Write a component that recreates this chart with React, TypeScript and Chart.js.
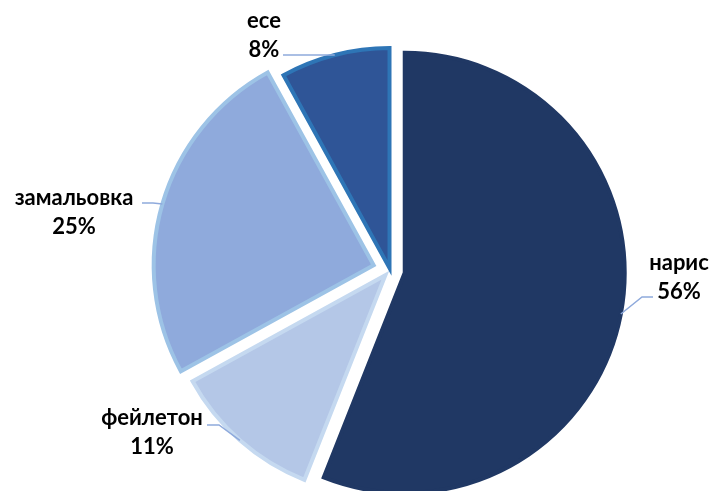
import React, { useEffect, useRef } from 'react';
import { Chart, registerables } from 'chart.js';

Chart.register(...registerables);

// ---- data ----
const categories: string[] = ['нарис', 'фейлетон', 'замальовка', 'есе'];
const values: number[] = [56, 11, 25, 8];
const percentLabels: string[] = ['56%', '11%', '25%', '8%'];

// ---- styles ----
const fillColors = ['#203864', '#B4C7E7', '#8FAADC', '#2F5597'];
const borderColors = ['#203864', '#C5D9F0', '#9DC3E6', '#2E75B6'];
const explode = [15, 7, 17, 2];
const labelAnchors = [
  { x: 679, y: 270 },
  { x: 152, y: 425 },
  { x: 74, y: 205 },
  { x: 264, y: 28 },
];
const leaderAttach = [
  { x: 653, y: 297, ex: 642 },
  { x: 207, y: 425, ex: 219 },
  { x: 142, y: 203, ex: 153 },
  { x: 283, y: 55, ex: 298 },
];
const LINE_GAP = 29;
const FONT = 'bold 22px Lato, "Noto Sans", sans-serif';

const explodePlugin = {
  id: 'explodeSlices',
  beforeDatasetsDraw(chart: any) {
    const meta = chart.getDatasetMeta(0);
    const ca = chart.chartArea;
    const cx = (ca.left + ca.right) / 2;
    const cy = (ca.top + ca.bottom) / 2;
    meta.data.forEach((arc: any, i: number) => {
      const mid = (arc.startAngle + arc.endAngle) / 2;
      arc.x = cx + Math.cos(mid) * explode[i];
      arc.y = cy + Math.sin(mid) * explode[i];
    });
  },
};

const labelPlugin = {
  id: 'outsideLabels',
  afterDatasetsDraw(chart: any) {
    const ctx: CanvasRenderingContext2D = chart.ctx;
    const meta = chart.getDatasetMeta(0);
    meta.data.forEach((arc: any, i: number) => {
      const mid = (arc.startAngle + arc.endAngle) / 2;
      const px = arc.x + Math.cos(mid) * arc.outerRadius;
      const py = arc.y + Math.sin(mid) * arc.outerRadius;
      const la = leaderAttach[i];
      ctx.save();
      ctx.strokeStyle = '#8FAADC';
      ctx.lineWidth = 1.5;
      ctx.beginPath();
      ctx.moveTo(px, py);
      ctx.lineTo(la.ex, la.y);
      ctx.lineTo(la.x, la.y);
      ctx.stroke();
      ctx.fillStyle = '#000000';
      ctx.font = FONT;
      ctx.textAlign = 'center';
      ctx.textBaseline = 'alphabetic';
      const a = labelAnchors[i];
      ctx.fillText(categories[i], a.x, a.y);
      ctx.fillText(percentLabels[i], a.x, a.y + LINE_GAP);
      ctx.restore();
    });
  },
};

export default function App() {
  const canvasRef = useRef<HTMLCanvasElement | null>(null);
  useEffect(() => {
    if (!canvasRef.current) return;
    const chart = new Chart(canvasRef.current, {
      type: 'pie',
      data: {
        labels: categories,
        datasets: [
          {
            data: values,
            backgroundColor: fillColors,
            borderColor: borderColors,
            borderWidth: 4,
            borderJoinStyle: 'miter',
            radius: 220,
            hoverOffset: 0,
          } as any,
        ],
      },
      options: {
        animation: false,
        responsive: false,
        maintainAspectRatio: false,
        layout: { padding: { left: 69, right: 0, top: 49, bottom: 0 } },
        plugins: {
          legend: { display: false },
          tooltip: { enabled: false },
        },
      },
      plugins: [explodePlugin, labelPlugin],
    });
    return () => chart.destroy();
  }, []);
  return (
    <div style={{ position: 'absolute', left: 0, top: 0, width: 711, height: 491, background: '#fff' }}>
      <canvas ref={canvasRef} width={711} height={491} />
    </div>
  );
}
